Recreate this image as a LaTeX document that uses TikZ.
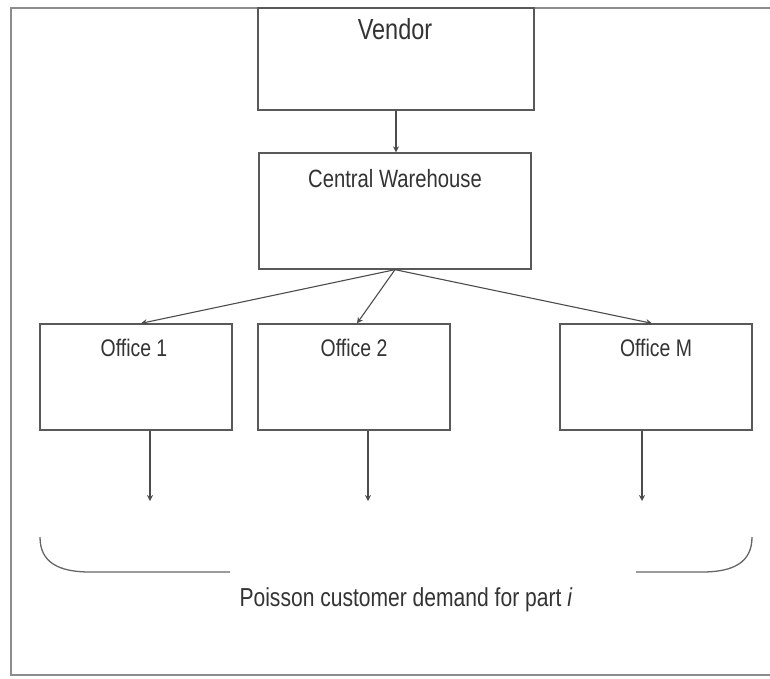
\documentclass[tikz,border=0pt]{standalone}
\usepackage{fontspec}
\setmainfont{Liberation Sans}
\usetikzlibrary{arrows.meta,calc}
% condensed sans text at a given size
\newcommand{\cond}[2]{\scalebox{0.81}[1]{\fontsize{#1}{#1}\selectfont #2}}
\begin{document}
\begin{tikzpicture}[x=1pt,y=-1pt,
  box/.style={draw=black!65,line width=1.3pt,rectangle,inner sep=0pt},
  lbl/.style={inner sep=0pt,anchor=base,text=black!80},
  link/.style={draw=black!70,line width=1.1pt,-{Stealth[length=6pt,width=6pt]}},
  frame/.style={draw=black!45,line width=1.6pt}]
  \useasboundingbox (0,0) rectangle (770,678);
  % outer frame (open on the right)
  \draw[frame] (770,8) -- (11,8) -- (11,675) -- (770,675);

  % boxes
  \node[box,minimum width=276pt,minimum height=102pt] (vendor) at (396,59) {};
  \node[box,minimum width=272pt,minimum height=116pt] (cw) at (395,211) {};
  \node[box,minimum width=192pt,minimum height=106pt] (o1) at (136,377) {};
  \node[box,minimum width=192pt,minimum height=106pt] (o2) at (354,377) {};
  \node[box,minimum width=192pt,minimum height=106pt] (om) at (656,377) {};

  % box titles
  \node[lbl] (tv) at (395,39) {\cond{29}{Vendor}};
  \node[lbl] (tc) at (395,187) {\cond{25}{Central Warehouse}};
  \node[lbl] (t1) at (134,356) {\cond{24}{Office 1}};
  \node[lbl] (t2) at (354,356) {\cond{24}{Office 2}};
  \node[lbl] (tm) at (656,356) {\cond{24}{Office M}};

  % supply links
  \draw[link] (vendor.south) -- (vendor.south |- cw.north);
  \draw[link] (cw.south) -- ($(o1.north)+(5,0)$);
  \draw[link] (cw.south) -- ($(o2.north)+(3,0)$);
  \draw[link] (cw.south) -- ($(om.north)+(-4,0)$);

  % demand arrows
  \coordinate (d1) at (150,501);
  \coordinate (d2) at (368,501);
  \coordinate (dm) at (642,501);
  \draw[link] ($(o1.south)+(14,0)$) -- (d1);
  \draw[link] ($(o2.south)+(14,0)$) -- (d2);
  \draw[link] ($(om.south)+(-14,0)$) -- (dm);

  % brace under the offices
  \draw[draw=black!60,line width=1.3pt]
    (40,537) .. controls (40,562) and (58,572) .. (90,572) -- (230,572);
  \draw[draw=black!60,line width=1.3pt]
    (636,572) -- (702,572) .. controls (734,572) and (752,562) .. (752,537);

  \node[lbl] (demand) at (406,606)
    {\cond{26}{Poisson customer demand for part \textit{i}}};
\end{tikzpicture}
\end{document}
